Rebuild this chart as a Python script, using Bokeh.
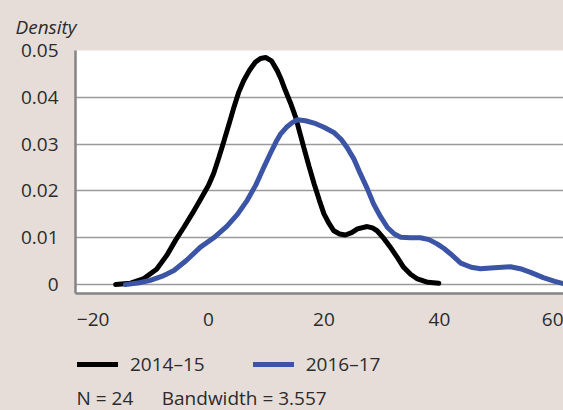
from bokeh.plotting import figure
from bokeh.layouts import column
from bokeh.models import Range1d, Legend, LegendItem, Title, FixedTicker, CustomJSTickFormatter, Label
from bokeh.embed import file_html
from bokeh.resources import INLINE

# ---- data ----
x_1415 = [-16.1, -13.5, -11.2, -9.0, -7.2, -5.7, -4.3, -2.8, -1.4, 0.0, 0.9, 1.8, 2.7, 3.6,
          4.4, 5.2, 6.1, 7.1, 8.1, 9.0, 9.9, 10.9, 11.9, 12.6, 13.3, 14.2, 15.1, 16.5, 17.4,
          18.3, 19.2, 20.0, 20.9, 21.7, 22.7, 23.7, 24.8, 25.8, 27.5, 28.4, 29.2, 30.4, 31.5,
          32.7, 33.8, 35.0, 36.2, 38.0, 39.9]
y_1415 = [0.0000, 0.0003, 0.0013, 0.0033, 0.0063, 0.0095, 0.0122, 0.0152, 0.0182, 0.0212,
          0.0238, 0.0272, 0.0308, 0.0345, 0.0379, 0.0410, 0.0436, 0.0458, 0.0475, 0.0483,
          0.0485, 0.0478, 0.0457, 0.0438, 0.0415, 0.0388, 0.0357, 0.0293, 0.0253, 0.0215,
          0.0180, 0.0151, 0.0130, 0.0115, 0.0108, 0.0106, 0.0111, 0.0119, 0.0124, 0.0121,
          0.0115, 0.0098, 0.0080, 0.0058, 0.0037, 0.0022, 0.0012, 0.0005, 0.0003]

x_1617 = [-14.4, -12.0, -10.1, -8.0, -6.0, -3.8, -1.4, 0.9, 3.2, 5.0, 6.7, 8.2, 9.6, 10.7,
          11.7, 12.5, 13.5, 14.5, 15.4, 16.8, 18.3, 20.0, 21.7, 23.0, 24.0, 25.2, 26.3, 27.5,
          28.6, 29.8, 31.0, 32.2, 33.3, 35.0, 36.7, 38.2, 39.6, 40.8, 41.9, 43.7, 45.5, 47.1,
          49.5, 52.3, 54.0, 55.8, 58.0, 60.0, 61.5, 63.0]
y_1617 = [0.0000, 0.0004, 0.0009, 0.0018, 0.0030, 0.0052, 0.0080, 0.0100, 0.0125, 0.0150,
          0.0180, 0.0213, 0.0251, 0.0280, 0.0305, 0.0322, 0.0336, 0.0346, 0.0352, 0.0350,
          0.0345, 0.0336, 0.0325, 0.0310, 0.0293, 0.0268, 0.0237, 0.0205, 0.0172, 0.0145,
          0.0122, 0.0108, 0.0101, 0.0100, 0.0100, 0.0096, 0.0087, 0.0077, 0.0066, 0.0046,
          0.0037, 0.0034, 0.0036, 0.0038, 0.0034, 0.0026, 0.0015, 0.0007, 0.0002, 0.0000]

series_names = ["2014\u201315", "2016\u201317"]
series_colors = ["#000000", "#3b54a5"]
x_ticks = [-20, 0, 20, 40, 60]
y_ticks = [0, 0.01, 0.02, 0.03, 0.04, 0.05]
y_label = "Density"
note = "N = 24\u2003\u2002Bandwidth = 3.557"

BG = "#e6ddd8"
TXT = "#2b2b2b"
FONT = "Open Sans"
LW = 5

# ---- main chart ----
p = figure(width=563, height=335, output_backend="svg", toolbar_location=None,
           x_range=Range1d(-23.05, 61.5), y_range=Range1d(-0.0019, 0.05),
           min_border_left=75, min_border_right=0, min_border_top=50, min_border_bottom=42)
p.border_fill_color = BG
p.background_fill_color = "white"
p.outline_line_color = None

p.title = Title(text=y_label, text_font=FONT, text_font_style="italic",
                text_font_size="19px", text_color=TXT, align="left", offset=-60, standoff=22)

r1 = p.line(x_1415, y_1415, line_color=series_colors[0], line_width=LW, line_cap="round")
r2 = p.line(x_1617, y_1617, line_color=series_colors[1], line_width=LW, line_cap="round")

for ax in (p.xaxis[0], p.yaxis[0]):
    ax.major_tick_out = 0
    ax.major_tick_in = 0
    ax.minor_tick_out = 0
    ax.minor_tick_in = 0
    ax.axis_line_color = "#858585"
    ax.axis_line_width = 2.5
    ax.major_label_text_font = FONT
    ax.major_label_text_font_size = "19px"
    ax.major_label_text_color = TXT

p.xaxis.ticker = FixedTicker(ticks=x_ticks)
p.yaxis.ticker = FixedTicker(ticks=y_ticks)
p.xaxis.formatter = CustomJSTickFormatter(code="return tick < 0 ? '\u2212' + Math.abs(tick) : String(tick);")
p.yaxis.formatter = CustomJSTickFormatter(code="return tick == 0 ? '0' : tick.toFixed(2);")
p.xaxis.major_label_standoff = 19
p.yaxis.major_label_standoff = 17

p.xgrid.grid_line_color = None
p.ygrid.grid_line_color = "#9a9a9a"
p.ygrid.grid_line_width = 1.5

# ---- legend + note strip (frame aligned with the chart's frame) ----
p2 = figure(width=563, height=75, output_backend="svg", toolbar_location=None,
            x_range=Range1d(75, 563), y_range=Range1d(75, 0),
            x_axis_location=None, y_axis_location=None,
            min_border_left=75, min_border_right=0, min_border_top=0, min_border_bottom=0)
p2.grid.visible = False
p2.outline_line_color = None
p2.background_fill_color = BG
p2.border_fill_color = BG

nan = float("nan")
k1 = p2.line(x=[nan], y=[nan], line_color=series_colors[0], line_width=LW, line_cap="round")
k2 = p2.line(x=[nan], y=[nan], line_color=series_colors[1], line_width=LW, line_cap="round")

legend = Legend(items=[LegendItem(label=series_names[0], renderers=[k1]),
                       LegendItem(label=series_names[1], renderers=[k2])],
                orientation="horizontal", location=(2, 33),
                background_fill_alpha=0, border_line_color=None,
                label_text_font=FONT, label_text_font_size="19px", label_text_color=TXT,
                glyph_width=41, label_standoff=12, spacing=48, padding=0, margin=0)
p2.add_layout(legend)

p2.add_layout(Label(x=76, y=62, text=note, text_font=FONT, text_font_size="19px",
                    text_color=TXT, text_baseline="middle", text_align="left"))

layout = column(p, p2, spacing=0)

html = file_html(layout, INLINE)
html = html.replace("</head>", "<style>html,body{margin:0;padding:0;background:%s;}</style></head>" % BG, 1)
open("out.html", "w").write(html)
